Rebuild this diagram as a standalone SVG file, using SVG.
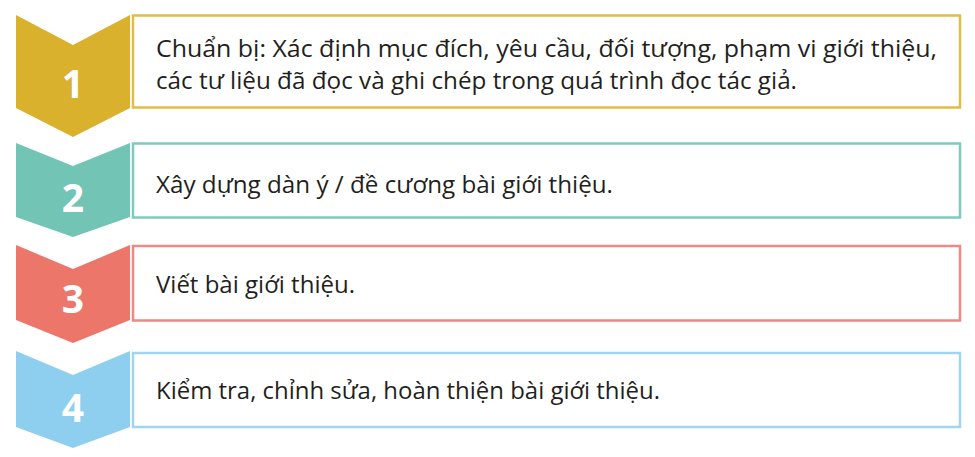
<svg xmlns="http://www.w3.org/2000/svg" width="975" height="457" viewBox="0 0 975 457">
<style>
.box{fill:#ffffff;stroke-width:2.5}
.num{font-family:"Open Sans","Noto Sans",sans-serif;font-weight:bold;font-size:39px;fill:#ffffff;text-anchor:middle}
.txt{font-family:"Open Sans","Noto Sans",sans-serif;font-size:23px;fill:#231f20}
</style>
<rect width="975" height="457" fill="#ffffff"/>
<g id="step1">
<polygon points="16,15 73,45 130,15 130,108 73,137 16,108" fill="#D9B12C"/>
<rect class="box" x="133" y="15.5" width="827" height="92" stroke="#E2BD46"/>
<text class="num" x="73" y="98">1</text>
<text class="txt" x="156" y="56.5" textLength="781" lengthAdjust="spacingAndGlyphs">Chuẩn bị: Xác định mục đích, yêu cầu, đối tượng, phạm vi giới thiệu,</text>
<text class="txt" x="156" y="88.5" textLength="641" lengthAdjust="spacingAndGlyphs">các tư liệu đã đọc và ghi chép trong quá trình đọc tác giả.</text>
</g>
<g id="step2">
<polygon points="16,143 73,166 130,143 130,217 73,237 16,217" fill="#72C4B5"/>
<rect class="box" x="133" y="143.5" width="827" height="74" stroke="#7ECBBE"/>
<text class="num" x="73" y="212">2</text>
<text class="txt" x="156" y="193" textLength="457" lengthAdjust="spacingAndGlyphs">Xây dựng dàn ý / đề cương bài giới thiệu.</text>
</g>
<g id="step3">
<polygon points="16,245 73,269 130,245 130,320 73,343 16,320" fill="#EC766A"/>
<rect class="box" x="133" y="246" width="827" height="74.5" stroke="#EE8983"/>
<text class="num" x="73" y="313">3</text>
<text class="txt" x="156" y="293" textLength="199" lengthAdjust="spacingAndGlyphs">Viết bài giới thiệu.</text>
</g>
<g id="step4">
<polygon points="16,351 73,375 130,351 130,427 73,448 16,427" fill="#8ECEEE"/>
<rect class="box" x="133" y="353" width="827" height="74" stroke="#A0D5F1"/>
<text class="num" x="73" y="422">4</text>
<text class="txt" x="156" y="399" textLength="504" lengthAdjust="spacingAndGlyphs">Kiểm tra, chỉnh sửa, hoàn thiện bài giới thiệu.</text>
</g>
<g id="connectors"/>
</svg>
